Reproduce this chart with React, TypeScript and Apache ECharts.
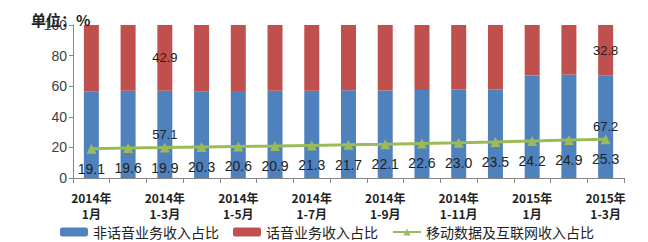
import React, { useEffect, useRef } from "react";
import * as echarts from "echarts";

const categories = [
  "2014年\n1月", "2014年\n1-2月", "2014年\n1-3月", "2014年\n1-4月", "2014年\n1-5月",
  "2014年\n1-6月", "2014年\n1-7月", "2014年\n1-8月", "2014年\n1-9月", "2014年\n1-10月",
  "2014年\n1-11月", "2014年\n1-12月", "2015年\n1月", "2015年\n1-2月", "2015年\n1-3月",
];
const nonVoice = [56.7, 57.0, 57.1, 56.7, 56.9, 57.1, 57.1, 57.3, 57.2, 57.5, 57.9, 57.9, 67.0, 67.6, 67.2];
const voice = [43.3, 43.0, 42.9, 43.3, 43.1, 42.9, 42.9, 42.7, 42.8, 42.5, 42.1, 42.1, 33.0, 32.4, 32.8];
const mobileData = [19.1, 19.6, 19.9, 20.3, 20.6, 20.9, 21.3, 21.7, 22.1, 22.6, 23.0, 23.5, 24.2, 24.9, 25.3];
const labeledBars = [2, 14];
const seriesNames = ["非话音业务收入占比", "话音业务收入占比", "移动数据及互联网收入占比"];
const yTicks = { min: 0, max: 100, interval: 20 };

const labelFont = "Liberation Sans, Arial, sans-serif";

export default function App() {
  const ref = useRef<HTMLDivElement>(null);
  useEffect(() => {
    document.body.style.margin = "0";
    if (!ref.current) return;
    const chart = echarts.init(ref.current, undefined, { renderer: "svg" });
    const barLabel = { show: true, position: "inside", color: "#222", fontSize: 13, fontFamily: labelFont };
    chart.setOption({
      animation: false,
      backgroundColor: "#fff",
      title: {
        text: "单位：%",
        left: 26,
        top: 5,
        textStyle: { fontSize: 15, fontWeight: "bold", color: "#222", fontFamily: "Noto Sans CJK SC", lineHeight: 18 },
      },
      grid: { left: 73, right: 24, top: 25, bottom: 64 },
      legend: {
        left: 60,
        top: 224,
        padding: 0,
        itemWidth: 28,
        itemHeight: 9,
        itemGap: 14,
        textStyle: { fontSize: 14, color: "#222", fontFamily: "Noto Sans CJK SC", lineHeight: 16 },
        data: seriesNames,
      },
      xAxis: {
        type: "category",
        data: categories,
        axisLine: { lineStyle: { color: "#868686" } },
        axisTick: { show: true, interval: 0, length: 5, lineStyle: { color: "#868686" } },
        axisLabel: {
          interval: 1,
          fontSize: 12,
          fontWeight: "bold",
          color: "#222",
          lineHeight: 16,
          margin: 11,
          fontFamily: "Noto Sans CJK SC",
        },
      },
      yAxis: {
        type: "value",
        min: yTicks.min,
        max: yTicks.max,
        interval: yTicks.interval,
        axisLine: { show: true, lineStyle: { color: "#868686" } },
        axisTick: { show: true, length: 4, lineStyle: { color: "#868686" } },
        splitLine: { show: false },
        axisLabel: { fontSize: 14, color: "#404040", margin: 6, fontFamily: labelFont },
      },
      series: [
        {
          name: seriesNames[0],
          type: "bar",
          stack: "total",
          barWidth: 15,
          itemStyle: { color: "#4F81BD" },
          data: nonVoice.map((v, i) => (labeledBars.includes(i) ? { value: v, label: barLabel } : v)),
        },
        {
          name: seriesNames[1],
          type: "bar",
          stack: "total",
          barWidth: 15,
          itemStyle: { color: "#C0504D" },
          data: voice.map((v, i) => (labeledBars.includes(i) ? { value: v, label: barLabel } : v)),
        },
        {
          name: seriesNames[2],
          type: "line",
          symbol: "triangle",
          symbolSize: 10,
          lineStyle: { color: "#9BBB59", width: 3 },
          itemStyle: { color: "#9BBB59" },
          label: {
            show: true,
            position: "bottom",
            distance: 8,
            color: "#222",
            fontSize: 14,
            fontFamily: labelFont,
            formatter: (p: any) => p.value.toFixed(1),
          },
          data: mobileData,
          z: 5,
        },
      ],
    });
    return () => chart.dispose();
  }, []);
  return <div ref={ref} style={{ width: 648, height: 242 }} />;
}
